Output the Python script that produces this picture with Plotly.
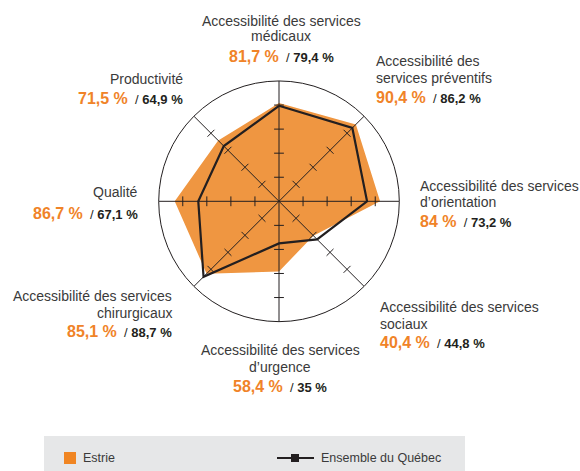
import plotly.graph_objects as go

# ---------------- data ----------------
categories = [
    "Accessibilité des services<br>médicaux",
    "Accessibilité des<br>services préventifs",
    "Accessibilité des services<br>d’orientation",
    "Accessibilité des services<br>sociaux",
    "Accessibilité des services<br>d’urgence",
    "Accessibilité des services<br>chirurgicaux",
    "Qualité",
    "Productivité",
]
keys = ["med", "prev", "orient", "soc", "urg", "chir", "qual", "prod"]
estrie = [81.7, 90.4, 84, 40.4, 58.4, 85.1, 86.7, 71.5]
quebec = [79.4, 86.2, 73.2, 44.8, 35, 88.7, 67.1, 64.9]
tick_values = [20, 40, 60, 80]
r_max = 100
series_names = ["Estrie", "Ensemble du Québec"]

# ---------------- style ----------------
W, H = 580, 471
ORANGE_FILL = "#EF9641"
ORANGE_TXT = "#F08328"
ORANGE_LEG = "#F08522"
DARK = "#231F20"
LABEL = "#3A3A3A"
FONT = "Liberation Sans, Arial, Helvetica, sans-serif"

cx, cy, rad = 279, 201.3, 120.3


def px(x):
    return x / W


def py(y):
    return 1 - y / H


def fmt(v):
    return f"{v:g}".replace(".", ",") + " %"


angles = [i * 360 / len(keys) for i in range(len(keys))]

fig = go.Figure()

# Estrie filled polygon
fig.add_trace(go.Scatterpolar(
    r=estrie + estrie[:1], theta=keys + keys[:1], mode="lines",
    fill="toself", fillcolor=ORANGE_FILL, line=dict(width=0, color=ORANGE_FILL),
    hoverinfo="skip", showlegend=False))

# spokes drawn above the fill
sr, st = [], []
for k in keys:
    sr += [0, r_max, None]
    st += [k, k, None]
fig.add_trace(go.Scatterpolar(r=sr, theta=st, mode="lines",
                              line=dict(color=DARK, width=1),
                              hoverinfo="skip", showlegend=False))

# tick marks on every spoke
tr, tt, ta = [], [], []
for k, a in zip(keys, angles):
    for v in tick_values:
        tr.append(v)
        tt.append(k)
        ta.append(a)
fig.add_trace(go.Scatterpolar(
    r=tr, theta=tt, mode="markers",
    marker=dict(symbol="line-ew", size=7, angle=ta,
                line=dict(width=1, color=DARK)),
    hoverinfo="skip", showlegend=False))

# Québec line
fig.add_trace(go.Scatterpolar(
    r=quebec + quebec[:1], theta=keys + keys[:1], mode="lines",
    line=dict(color=DARK, width=2.2), hoverinfo="skip", showlegend=False))

fig.update_layout(
    width=W, height=H,
    margin=dict(l=0, r=0, t=0, b=0),
    paper_bgcolor="white",
    showlegend=False,
    font=dict(family=FONT, size=14, color=LABEL),
    polar=dict(
        domain=dict(x=[px(cx - rad), px(cx + rad)],
                    y=[py(cy + rad), py(cy - rad)]),
        bgcolor="rgba(0,0,0,0)",
        radialaxis=dict(range=[0, r_max], showgrid=False, showline=False,
                        showticklabels=False, ticks=""),
        angularaxis=dict(type="category", categoryarray=keys,
                         rotation=90, direction="clockwise",
                         showgrid=False, showline=True, linecolor=DARK,
                         linewidth=1, ticks="", showticklabels=False),
    ),
)

# label layout in pixels: x, anchor, line centres of the label, value centre
pos = {
    "med": (281, "center", [20, 35], 56.7),
    "prev": (374, "left", [60, 77.3], 97.7),
    "orient": (417.5, "left", [184.3, 201], 221),
    "soc": (378, "left", [305.7, 322.3], 342.7),
    "urg": (280, "center", [349, 365.7], 386.7),
    "chir": (174, "right", [294.3, 311.7], 331.7),
    "qual": (140, "right", [191], 213.3),
    "prod": (184.5, "right", [78.3], 98.3),
}

for k, lab, e, q in zip(keys, categories, estrie, quebec):
    x, anc, lines_y, vy = pos[k]
    for line, ly in zip(lab.split("<br>"), lines_y):
        fig.add_annotation(x=px(x), y=py(ly + 1.2), xref="paper", yref="paper",
                           text=line, showarrow=False, xanchor=anc,
                           yanchor="middle", align=anc,
                           font=dict(size=14, color=LABEL, family=FONT))
    txt = (f'<span style="font-size:16px;color:{ORANGE_TXT};font-weight:bold">{fmt(e)}</span>'
           f'<span style="color:{DARK}">  / <b>{fmt(q)}</b></span>')
    fig.add_annotation(x=px(x), y=py(vy), xref="paper", yref="paper",
                       text=txt, showarrow=False, xanchor=anc, yanchor="middle",
                       align=anc, font=dict(size=13, color=DARK, family=FONT))

# legend (custom)
shapes = [
    dict(type="rect", xref="paper", yref="paper", x0=px(44), x1=px(465),
         y0=py(471), y1=py(436), fillcolor="#E6E7E8", line=dict(width=0),
         layer="below"),
    dict(type="rect", xref="paper", yref="paper", x0=px(64), x1=px(76),
         y0=py(464), y1=py(452), fillcolor=ORANGE_LEG, line=dict(width=0)),
    dict(type="line", xref="paper", yref="paper", x0=px(277), x1=px(314),
         y0=py(458), y1=py(458), line=dict(color=DARK, width=2)),
    dict(type="rect", xref="paper", yref="paper", x0=px(291), x1=px(299),
         y0=py(462), y1=py(454), fillcolor=DARK, line=dict(width=0)),
]
fig.update_layout(shapes=shapes)
fig.add_annotation(x=px(80.5), y=py(458), xref="paper", yref="paper",
                   text=series_names[0], showarrow=False, xanchor="left",
                   yanchor="middle", font=dict(size=12.5, color=LABEL, family=FONT))
fig.add_annotation(x=px(318.5), y=py(458), xref="paper", yref="paper",
                   text=series_names[1], showarrow=False, xanchor="left",
                   yanchor="middle", font=dict(size=12.5, color=LABEL, family=FONT))

fig.write_html("out.html",
               config={"displayModeBar": False},
               post_script="document.body.style.margin='0';"
                           "document.body.style.padding='0';"
                           "document.body.style.overflow='hidden';")
